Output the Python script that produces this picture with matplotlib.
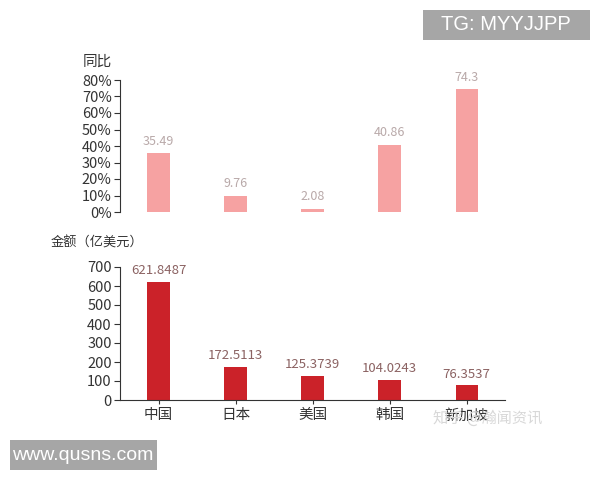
import matplotlib
matplotlib.use("Agg")
import matplotlib.pyplot as plt
from matplotlib.patches import Rectangle

plt.rcParams['font.family'] = ['Noto Sans CJK SC', 'DejaVu Sans']

# data
countries = ["中国", "日本", "美国", "韩国", "新加坡"]
yoy = [35.49, 9.76, 2.08, 40.86, 74.3]
yoy_labels = ["35.49", "9.76", "2.08", "40.86", "74.3"]
amount = [621.8487, 172.5113, 125.3739, 104.0243, 76.3537]
amount_labels = ["621.8487", "172.5113", "125.3739", "104.0243", "76.3537"]
yoy_ticks = [0, 10, 20, 30, 40, 50, 60, 70, 80]
amount_ticks = [0, 100, 200, 300, 400, 500, 600, 700]

fig = plt.figure(figsize=(6, 4.8), dpi=100)
fig.patch.set_facecolor("white")

# light panel behind the chart
bg = fig.add_axes([42 / 600, 1 - 438 / 480, 516 / 600, 398 / 480], zorder=-1)
bg.set_facecolor("#fcfafb")
bg.axis("off")
bg.patch.set_visible(True)

x = range(len(countries))
axis_col = "#333333"

# top: year-on-year
ax1 = fig.add_axes([0.2, 1 - 212 / 480, 0.642, 132 / 480])
ax1.patch.set_alpha(0)
ax1.bar(x, yoy, width=0.29, color="#f6a2a2")
for i, (v, lab) in enumerate(zip(yoy, yoy_labels)):
    ax1.text(i, v + 3.5, lab, ha="center", va="bottom", fontsize=9, color="#b9a9a9")
ax1.set_xlim(-0.5, 4.5)
ax1.set_ylim(0, 80)
ax1.set_yticks(yoy_ticks)
ax1.set_yticklabels([f"{t}%" for t in yoy_ticks])
ax1.set_xticks([])
for s in ["top", "right", "bottom"]:
    ax1.spines[s].set_visible(False)
ax1.spines["left"].set_color(axis_col)
ax1.tick_params(axis="y", length=4, pad=2, labelsize=10.5, colors=axis_col)
fig.text(83 / 600, 1 - 62 / 480, "同比", fontsize=10.5, color=axis_col,
         ha="left", va="center")

# bottom: amount
ax2 = fig.add_axes([0.2, 1 - 400 / 480, 0.642, 133 / 480])
ax2.patch.set_alpha(0)
ax2.bar(x, amount, width=0.29, color="#cb2229")
for i, (v, lab) in enumerate(zip(amount, amount_labels)):
    ax2.text(i, v + 25, lab, ha="center", va="bottom", fontsize=9.5, color="#8b6262")
ax2.set_xlim(-0.5, 4.5)
ax2.set_ylim(0, 700)
ax2.set_yticks(amount_ticks)
ax2.set_xticks(list(x))
ax2.set_xticklabels(countries)
for s in ["top", "right"]:
    ax2.spines[s].set_visible(False)
for s in ["left", "bottom"]:
    ax2.spines[s].set_color(axis_col)
ax2.tick_params(axis="y", length=4, pad=2, labelsize=10.5, colors=axis_col)
ax2.tick_params(axis="x", length=3, pad=3, labelsize=10.5, colors=axis_col)
fig.text(51 / 600, 1 - 243 / 480, "金额（亿美元）", fontsize=9.5, color=axis_col,
         ha="left", va="center")

# watermarks
fig.text(488 / 600, 1 - 418 / 480, "知乎 @瀚闻资讯", fontsize=11, color="#d8d8d8",
         ha="center", va="center", zorder=0)
fig.patches.append(Rectangle((423 / 600, 1 - 40 / 480), 167 / 600, 30 / 480,
                             transform=fig.transFigure, facecolor="#a6a6a6",
                             edgecolor="none"))
fig.text(506 / 600, 1 - 25 / 480, "TG: MYYJJPP", fontsize=14.5, color="white",
         ha="center", va="center", family="Liberation Sans")
fig.patches.append(Rectangle((10 / 600, 1 - 470 / 480), 147 / 600, 30 / 480,
                             transform=fig.transFigure, facecolor="#a6a6a6",
                             edgecolor="none"))
fig.text(83 / 600, 1 - 455 / 480, "www.qusns.com", fontsize=14, color="white",
         ha="center", va="center", family="Liberation Sans")

fig.savefig("out.png", dpi=100)
